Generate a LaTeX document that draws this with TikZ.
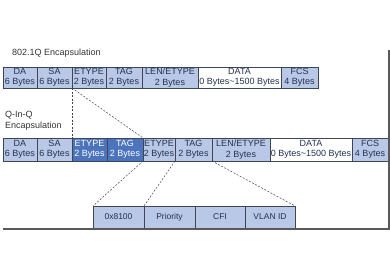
\documentclass[tikz,border=0pt]{standalone}
\usepackage{fontspec}
\setmainfont{Liberation Sans}
\usepackage{xcolor}
\usepackage{tikz}
\usetikzlibrary{positioning,calc}

\definecolor{fieldblue}{HTML}{B8C8E6}
\definecolor{tagblue}{HTML}{4C74BC}
\definecolor{edgegray}{HTML}{3E4656}
\definecolor{textnavy}{HTML}{23324F}

\tikzset{
  field/.style={draw=edgegray,line width=0.8pt,fill=fieldblue,text=textnavy,
    anchor=north west,inner sep=0pt,outer sep=0pt,align=center,
    font=\fontsize{9}{10.5}\selectfont},
  newfield/.style={field,fill=tagblue,text=white},
  datafield/.style={field,fill=white},
  subfield/.style={field,font=\fontsize{8.5}{10}\selectfont},
  expand/.style={edgegray,line width=0.5pt,dash pattern=on 2pt off 1.5pt},
  caption/.style={anchor=west,inner sep=0pt,align=left,text=black!80,
    font=\fontsize{9}{11}\selectfont}
}

\begin{document}
\begin{tikzpicture}[x=1pt,y=-1pt]
  \useasboundingbox (0,0) rectangle (390,278);

  % 802.1Q frame
  \node[caption] (qlabel) at (12,53) {802.1Q Encapsulation};
  \node[field,minimum width=34pt,minimum height=21pt] (da1) at (3,67) {DA\\6 Bytes};
  \node[field,minimum width=35pt,minimum height=21pt] (sa1) at (37,67) {SA\\6 Bytes};
  \node[field,minimum width=34pt,minimum height=21pt] (etype1) at (72,67) {ETYPE\\2 Bytes};
  \node[field,minimum width=36pt,minimum height=21pt] (tag1) at (106,67) {TAG\\2 Bytes};
  \node[field,minimum width=56pt,minimum height=21pt] (len1) at (142,67) {LEN/ETYPE\\2 Bytes};
  \node[datafield,minimum width=83pt,minimum height=21pt] (data1) at (198,67) {DATA\\0 Bytes\textasciitilde1500 Bytes};
  \node[field,minimum width=37pt,minimum height=21pt] (fcs1) at (281,67) {FCS\\4 Bytes};

  % Q-in-Q frame
  \node[caption] (qqlabel) at (5,120.5) {Q-In-Q\\Encapsulation};
  \node[field,minimum width=34pt,minimum height=23pt] (da2) at (3,138) {DA\\6 Bytes};
  \node[field,minimum width=35pt,minimum height=23pt] (sa2) at (37,138) {SA\\6 Bytes};
  \node[newfield,minimum width=35pt,minimum height=23pt] (setype) at (72,138) {ETYPE\\2 Bytes};
  \node[newfield,minimum width=36pt,minimum height=23pt] (stag) at (107,138) {TAG\\2 Bytes};
  \node[field,minimum width=32pt,minimum height=23pt] (etype2) at (143,138) {ETYPE\\2 Bytes};
  \node[field,minimum width=37pt,minimum height=23pt] (tag2) at (175,138) {TAG\\2 Bytes};
  \node[field,minimum width=58pt,minimum height=23pt] (len2) at (212,138) {LEN/ETYPE\\2 Bytes};
  \node[datafield,minimum width=82pt,minimum height=23pt] (data2) at (270,138) {DATA\\0 Bytes\textasciitilde1500 Bytes};
  \node[field,minimum width=36pt,minimum height=23pt] (fcs2) at (352,138) {FCS\\4 Bytes};

  % tag detail
  \node[subfield,minimum width=51pt,minimum height=22pt] (tpid) at (93,206) {0x8100};
  \node[subfield,minimum width=51pt,minimum height=22pt] (prio) at (144,206) {Priority};
  \node[subfield,minimum width=50pt,minimum height=22pt] (cfi) at (195,206) {CFI};
  \node[subfield,minimum width=50pt,minimum height=22pt] (vid) at (245,206) {VLAN ID};

  % expansion lines
  \draw[expand] (etype1.south west) -- (setype.north west);
  \draw[expand] (etype1.south west) -- (stag.north east);
  \draw[expand] (etype2.south west) -- (tpid.north west);
  \draw[expand] (etype2.south east) -- (prio.north west);
  \draw[expand] (tag2.south east) -- (vid.north east);

  % frame edge
  \coordinate (frametop) at (389,50);
  \coordinate (framecorner) at (389,229);
  \coordinate (frameleft) at (3,229);
  \draw[black!65,line width=1.4pt] (frametop) -- (framecorner) -- (frameleft);
\end{tikzpicture}
\end{document}
